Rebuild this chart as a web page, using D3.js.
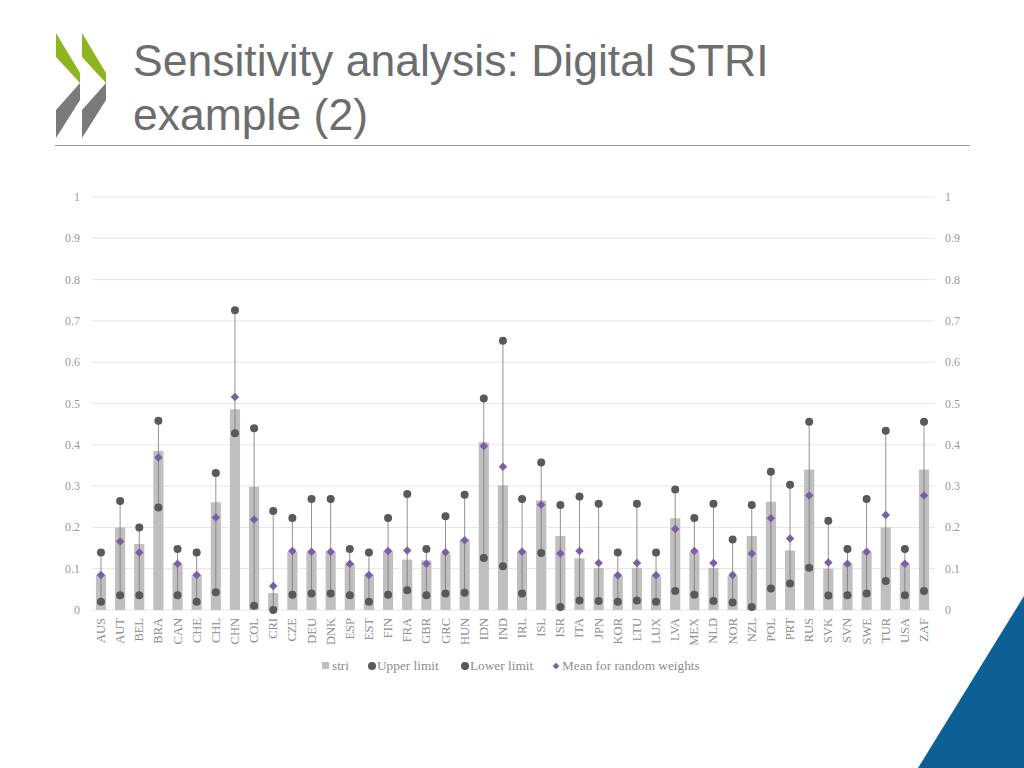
<!DOCTYPE html>
<html><head><meta charset="utf-8">
<script src="https://cdn.jsdelivr.net/npm/d3@7"></script>
<style>body{margin:0;background:#fff}svg{display:block}</style></head>
<body><svg id="c" width="1024" height="768"></svg>
<script>
const categories=["AUS","AUT","BEL","BRA","CAN","CHE","CHL","CHN","COL","CRI","CZE","DEU","DNK","ESP","EST","FIN","FRA","GBR","GRC","HUN","IDN","IND","IRL","ISL","ISR","ITA","JPN","KOR","LTU","LUX","LVA","MEX","NLD","NOR","NZL","POL","PRT","RUS","SVK","SVN","SWE","TUR","USA","ZAF"];
const stri=[0.085,0.2,0.16,0.385,0.113,0.085,0.261,0.486,0.298,0.041,0.141,0.141,0.141,0.112,0.085,0.143,0.122,0.12,0.137,0.171,0.406,0.302,0.141,0.265,0.179,0.125,0.102,0.083,0.102,0.083,0.222,0.141,0.102,0.083,0.179,0.262,0.144,0.34,0.1,0.112,0.141,0.2,0.112,0.34];
const upper=[0.139,0.264,0.2,0.458,0.148,0.139,0.332,0.726,0.44,0.24,0.223,0.269,0.269,0.148,0.139,0.223,0.281,0.148,0.227,0.279,0.512,0.652,0.269,0.357,0.254,0.275,0.257,0.139,0.257,0.139,0.292,0.223,0.257,0.171,0.254,0.335,0.303,0.456,0.216,0.148,0.269,0.434,0.148,0.456];
const lower=[0.02,0.036,0.036,0.248,0.036,0.02,0.043,0.428,0.01,0,0.037,0.04,0.04,0.036,0.02,0.037,0.048,0.036,0.04,0.042,0.126,0.106,0.04,0.138,0.007,0.023,0.022,0.02,0.023,0.02,0.046,0.037,0.022,0.018,0.007,0.052,0.064,0.102,0.035,0.036,0.04,0.07,0.036,0.046];
const mean=[0.085,0.166,0.139,0.369,0.112,0.085,0.224,0.516,0.219,0.058,0.143,0.141,0.141,0.112,0.085,0.143,0.144,0.112,0.14,0.169,0.397,0.347,0.141,0.255,0.137,0.143,0.114,0.084,0.114,0.084,0.196,0.143,0.114,0.085,0.137,0.222,0.173,0.277,0.115,0.112,0.141,0.23,0.112,0.277];
const yTicks=[0,0.1,0.2,0.3,0.4,0.5,0.6,0.7,0.8,0.9,1];

const svg=d3.select("#c");
[0,26].forEach(o=>{
  svg.append("polygon").attr("points",[[56+o,33],[80+o,73],[80+o,83],[56+o,57]].map(p=>p.join(",")).join(" ")).attr("fill","#8cb51e");
  svg.append("polygon").attr("points",[[80+o,83],[80+o,100],[56+o,138],[56+o,110]].map(p=>p.join(",")).join(" ")).attr("fill","#7a7a7a");
});
svg.append("text").attr("x",133).attr("y",76).attr("font-family","Liberation Sans, Arial").attr("font-size",44.5).attr("fill","#6d6d6d").text("Sensitivity analysis: Digital STRI");
svg.append("text").attr("x",133).attr("y",130).attr("font-family","Liberation Sans, Arial").attr("font-size",44.5).attr("fill","#6d6d6d").text("example (2)");
svg.append("line").attr("x1",55).attr("x2",970).attr("y1",145.5).attr("y2",145.5).attr("stroke","#999").attr("stroke-width",1.2);
svg.append("polygon").attr("points","1024,596 1024,768 918,768").attr("fill","#0d5f96");

const x=d3.scaleBand().domain(categories).range([91.5,933.5]).paddingInner(0.47).paddingOuter(0.23);
const y=d3.scaleLinear().domain([0,1]).range([610,197]);
const font="Liberation Serif, serif";
const g=svg.append("g");
yTicks.forEach(t=>{
  g.append("line").attr("x1",92).attr("x2",935).attr("y1",y(t)).attr("y2",y(t)).attr("stroke","#e6e6e6");
  g.append("text").attr("x",80).attr("y",y(t)+4).attr("text-anchor","end").attr("font-family",font).attr("font-size",12).attr("fill","#999").text(t);
  g.append("text").attr("x",945).attr("y",y(t)+4).attr("font-family",font).attr("font-size",12).attr("fill","#999").text(t);
});
const cx=c=>x(c)+x.bandwidth()/2;
g.selectAll(".bar").data(categories).join("rect").attr("x",d=>x(d)).attr("width",x.bandwidth())
 .attr("y",(d,i)=>y(stri[i])).attr("height",(d,i)=>y(0)-y(stri[i])).attr("fill","#bfbfbf");
g.selectAll(".hl").data(categories).join("line").attr("x1",cx).attr("x2",cx)
 .attr("y1",(d,i)=>y(upper[i])).attr("y2",(d,i)=>y(lower[i])).attr("stroke","#777").attr("stroke-width",0.8);
g.selectAll(".up").data(categories).join("circle").attr("cx",cx).attr("cy",(d,i)=>y(upper[i])).attr("r",4).attr("fill","#595959");
g.selectAll(".lo").data(categories).join("circle").attr("cx",cx).attr("cy",(d,i)=>y(lower[i])).attr("r",4).attr("fill","#595959");
g.selectAll(".mn").data(categories).join("path").attr("d",d3.symbol(d3.symbolSquare,36))
 .attr("transform",(d,i)=>`translate(${cx(d)},${y(mean[i])}) rotate(45)`).attr("fill","#7b5ea7");
g.selectAll(".cl").data(categories).join("text").attr("transform",d=>`translate(${cx(d)+4},618) rotate(-90)`)
 .attr("text-anchor","end").attr("font-family",font).attr("font-size",12.5).attr("fill","#8c8c8c").text(d=>d);
const lg=svg.append("g").attr("font-family",font).attr("font-size",13.3).attr("fill","#8c8c8c");
lg.append("rect").attr("x",322).attr("y",662).attr("width",7).attr("height",7).attr("fill","#bfbfbf");
lg.append("text").attr("x",332).attr("y",670).text("stri");
lg.append("circle").attr("cx",372).attr("cy",666).attr("r",4).attr("fill","#595959");
lg.append("text").attr("x",377).attr("y",670).text("Upper limit");
lg.append("circle").attr("cx",465).attr("cy",666).attr("r",4).attr("fill","#595959");
lg.append("text").attr("x",470).attr("y",670).text("Lower limit");
lg.append("path").attr("d",d3.symbol(d3.symbolSquare,22)).attr("transform","translate(556,666) rotate(45)").attr("fill","#7b5ea7");
lg.append("text").attr("x",562).attr("y",670).text("Mean for random weights");
</script></body></html>
